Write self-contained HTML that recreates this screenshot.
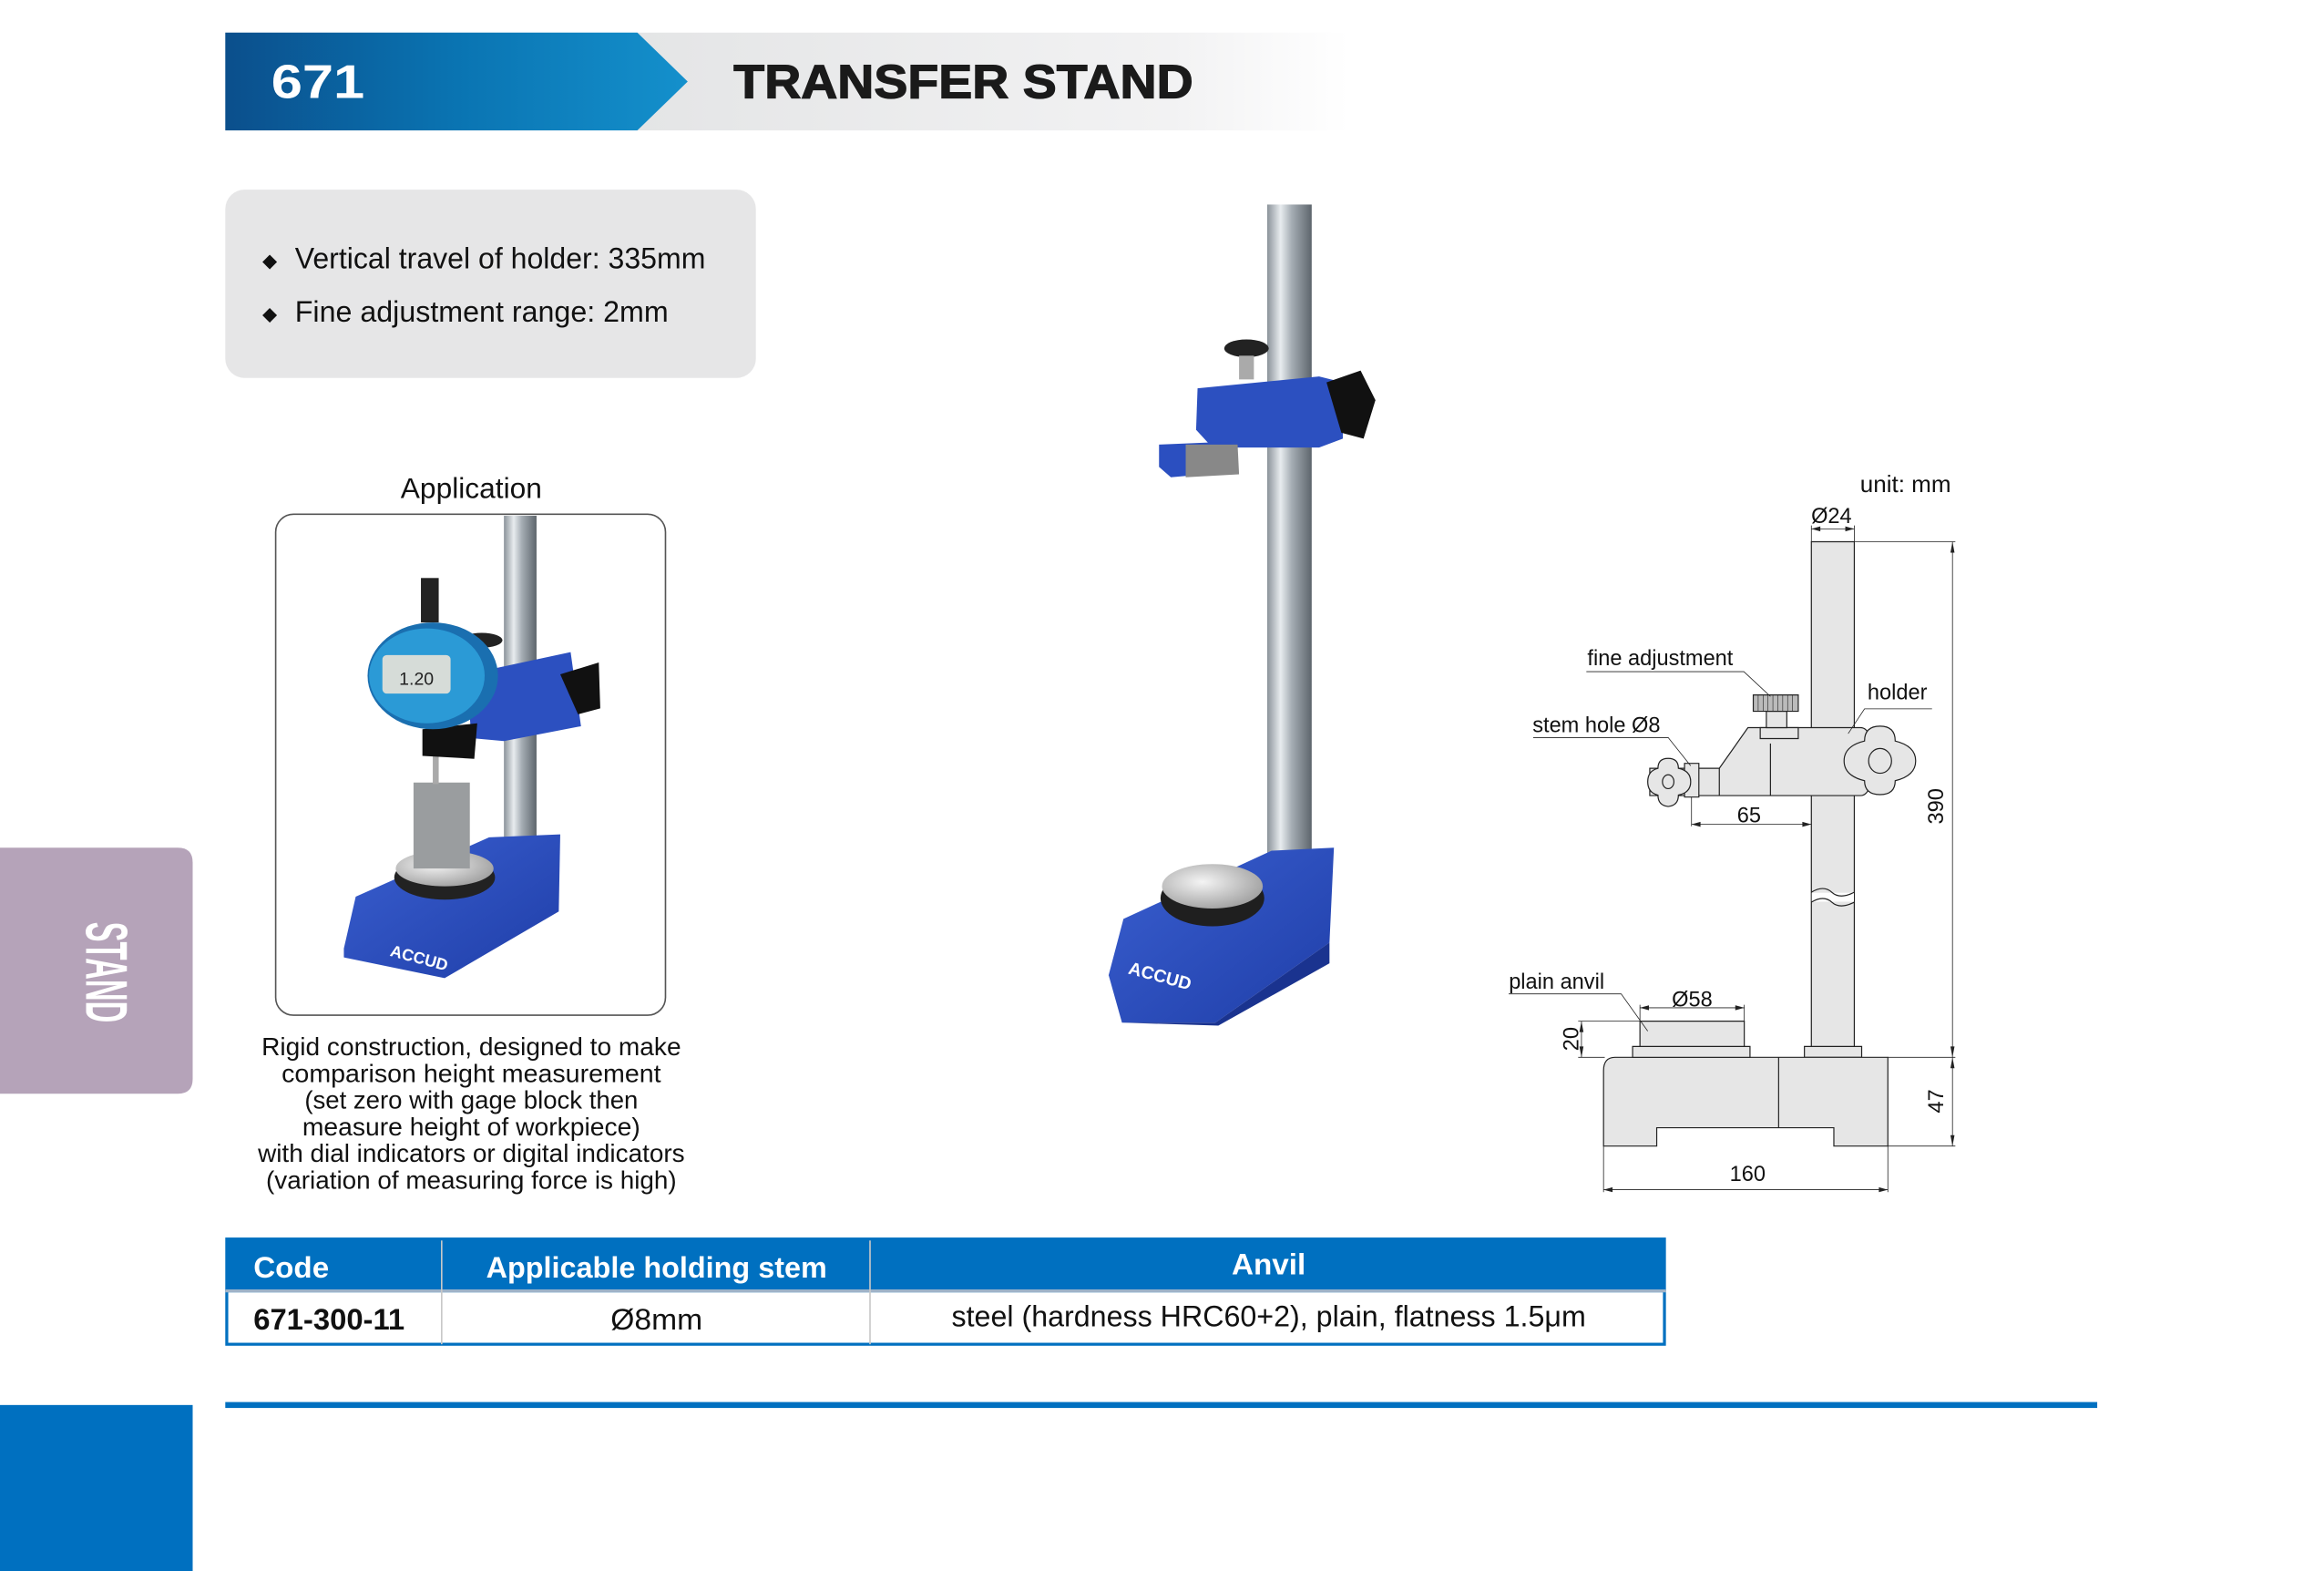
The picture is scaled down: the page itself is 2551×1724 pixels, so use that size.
<!DOCTYPE html>
<html><head><meta charset="utf-8"><style>
html,body{margin:0;padding:0;background:#fff;}
svg{display:block;}
text{font-family:"Liberation Sans",sans-serif;}
</style></head><body>
<svg width="2551" height="1724" viewBox="0 0 1568 1060" preserveAspectRatio="none" xmlns="http://www.w3.org/2000/svg">
<defs>
<linearGradient id="hb" x1="0" x2="1" y1="0" y2="0"><stop offset="0" stop-color="#0b4f8c"/><stop offset="0.5" stop-color="#0a74b2"/><stop offset="1" stop-color="#1490cc"/></linearGradient>
<linearGradient id="hg" x1="0" x2="1"><stop offset="0" stop-color="#e4e5e6"/><stop offset="0.75" stop-color="#f2f2f3"/><stop offset="1" stop-color="#ffffff"/></linearGradient>
<linearGradient id="col" x1="0" x2="1"><stop offset="0" stop-color="#8b939a"/><stop offset="0.3" stop-color="#e8ecef"/><stop offset="0.55" stop-color="#a5adb4"/><stop offset="1" stop-color="#5d656c"/></linearGradient>
<linearGradient id="blu" x1="0" x2="1" y1="0" y2="1"><stop offset="0" stop-color="#3a5fd0"/><stop offset="1" stop-color="#1f3ea8"/></linearGradient>
<radialGradient id="anv" cx="0.4" cy="0.4" r="0.7"><stop offset="0" stop-color="#f4f4f4"/><stop offset="1" stop-color="#9a9a9a"/></radialGradient>
</defs>

<!-- header -->
<rect x="430" y="22" width="480" height="66" fill="url(#hg)"/>
<polygon points="152,22 430,22 464,55 430,88 152,88" fill="url(#hb)"/>
<text x="183" y="66" font-size="32" font-weight="bold" fill="#fff" textLength="63" lengthAdjust="spacingAndGlyphs">671</text>
<text x="495" y="66" font-size="32" font-weight="bold" fill="#1a1a1a" stroke="#1a1a1a" stroke-width="0.8" textLength="310" lengthAdjust="spacingAndGlyphs">TRANSFER STAND</text>

<!-- features box -->
<rect x="152" y="128" width="358" height="127" rx="13" fill="#e6e6e7"/>
<text x="177" y="180" font-size="13" fill="#111">◆</text>
<text x="199" y="181" font-size="20" fill="#111" textLength="277" lengthAdjust="spacingAndGlyphs">Vertical travel of holder: 335mm</text>
<text x="177" y="216" font-size="13" fill="#111">◆</text>
<text x="199" y="217" font-size="20" fill="#111" textLength="252" lengthAdjust="spacingAndGlyphs">Fine adjustment range: 2mm</text>

<!-- side tab -->
<path d="M0,572 H120 Q130,572 130,582 V728 Q130,738 120,738 H0 Z" fill="#b5a3b9"/>
<text transform="translate(58,656) rotate(90)" text-anchor="middle" font-size="40" font-weight="bold" fill="#fff" textLength="68" lengthAdjust="spacingAndGlyphs">STAND</text>
<rect x="0" y="948" width="130" height="112" fill="#0070c0"/>
<rect x="152" y="946" width="1263" height="4" fill="#0070c0"/>

<!-- application -->
<text x="318" y="336" font-size="19.5" text-anchor="middle" fill="#111">Application</text>
<rect x="186" y="347" width="263" height="338" rx="12" fill="#fff" stroke="#555" stroke-width="1"/>
<rect x="340" y="348" width="22" height="222" fill="url(#col)"/>
<polygon points="232,640 240,605 330,565 378,563 377,615 300,660 232,646" fill="url(#blu)"/>
<ellipse cx="300" cy="592" rx="34" ry="15" fill="#222"/>
<ellipse cx="300" cy="586" rx="33" ry="12" fill="url(#anv)"/>
<rect x="279" y="528" width="38" height="58" fill="#9a9d9f"/>
<rect x="292" y="505" width="4" height="24" fill="#aaa"/>
<polygon points="315,455 385,440 392,490 340,500 318,498" fill="#2c50c0"/>
<polygon points="378,455 404,447 405,478 390,482" fill="#111"/>
<polygon points="285,492 322,488 320,512 285,510" fill="#111"/>
<ellipse cx="325" cy="432" rx="14" ry="5" fill="#222"/>
<rect x="284" y="390" width="12" height="30" fill="#222"/>
<ellipse cx="292" cy="456" rx="44" ry="36" fill="#1a6fb0"/>
<ellipse cx="288" cy="456" rx="39" ry="32" fill="#2b9ad6"/>
<rect x="258" y="442" width="46" height="26" rx="3" fill="#d6dcd8"/>
<text x="281" y="462" font-size="12" text-anchor="middle" fill="#222">1.20</text>
<text x="264" y="645" font-size="11" font-weight="bold" fill="#fff" transform="rotate(15 264 640)">ACCUD</text>
<g font-size="17" text-anchor="middle" fill="#111" lengthAdjust="spacingAndGlyphs">
<text x="318" y="712" textLength="283" lengthAdjust="spacingAndGlyphs">Rigid construction, designed to make</text>
<text x="318" y="730" textLength="256" lengthAdjust="spacingAndGlyphs">comparison height measurement</text>
<text x="318" y="748" textLength="225" lengthAdjust="spacingAndGlyphs">(set zero with gage block then</text>
<text x="318" y="766" textLength="228" lengthAdjust="spacingAndGlyphs">measure height of workpiece)</text>
<text x="318" y="784" textLength="288" lengthAdjust="spacingAndGlyphs">with dial indicators or digital indicators</text>
<text x="318" y="802" textLength="277" lengthAdjust="spacingAndGlyphs">(variation of measuring force is high)</text>
</g>

<!-- main product photo -->
<rect x="855" y="138" width="30" height="452" fill="url(#col)"/>
<polygon points="748,658 758,620 858,574 900,572 897,636 820,690 757,690" fill="url(#blu)"/>
<polygon points="757,690 820,690 897,636 897,650 822,692" fill="#1a338f"/>
<ellipse cx="818" cy="606" rx="35" ry="19" fill="#1f1f1f"/>
<ellipse cx="818" cy="598" rx="34" ry="15" fill="url(#anv)"/>
<text x="762" y="657" font-size="12" font-weight="bold" fill="#fff" transform="rotate(15 762 652)">ACCUD</text>
<polygon points="808,262 890,254 906,258 906,296 890,302 818,302 807,290" fill="#2c50c0"/>
<polygon points="782,300 830,298 835,318 790,322 782,315" fill="#2b4fc0"/>
<polygon points="800,300 835,300 836,320 800,322" fill="#888"/>
<polygon points="895,258 918,250 928,270 920,296 905,292" fill="#111"/>
<ellipse cx="841" cy="235" rx="15" ry="6" fill="#222"/>
<rect x="836" y="240" width="10" height="16" fill="#aaa"/>

<!-- technical drawing -->
<g transform="translate(982,306) scale(0.276,0.3345)" fill="#e6e6e6" stroke="#222" stroke-width="1.2">
<rect x="870" y="178" width="105" height="1020" vector-effect="non-scaling-stroke"/>
<rect x="871" y="886" width="103" height="18" fill="#fff" stroke="none"/>
<path d="M870,885 Q900,870 920,885 T975,885 M870,905 Q900,890 920,905 T975,905" fill="none" vector-effect="non-scaling-stroke"/>
<rect x="853" y="1196" width="140" height="22" vector-effect="non-scaling-stroke"/>
<path d="M390,1218 H1057 V1397 H925 V1360 H492 V1397 H362 V1245 Q362,1218 390,1218 Z" vector-effect="non-scaling-stroke"/>
<line x1="790" y1="1218" x2="790" y2="1360" vector-effect="non-scaling-stroke"/>
<rect x="433" y="1196" width="287" height="22" vector-effect="non-scaling-stroke"/>
<rect x="451" y="1145" width="255" height="51" vector-effect="non-scaling-stroke"/>
<path d="M715,553 H990 Q1020,553 1020,620 Q1020,690 990,690 H475 V635 H645 Z" vector-effect="non-scaling-stroke"/>
<line x1="645" y1="635" x2="645" y2="690" vector-effect="non-scaling-stroke"/>
<line x1="770" y1="585" x2="770" y2="690" vector-effect="non-scaling-stroke"/>
<rect x="745" y="553" width="93" height="22" vector-effect="non-scaling-stroke"/>
<rect x="760" y="520" width="50" height="33" vector-effect="non-scaling-stroke"/>
<rect x="728" y="487" width="110" height="33" fill="#bbb" vector-effect="non-scaling-stroke"/>
<path d="M740,487v33M752,487v33M764,487v33M776,487v33M788,487v33M800,487v33M812,487v33M824,487v33" stroke-width="0.6" fill="none" vector-effect="non-scaling-stroke"/>
<rect x="560" y="625" width="35" height="68" vector-effect="non-scaling-stroke"/>
<path d="M520,615 Q545,615 545,635 Q575,640 575,662 Q575,684 545,689 Q545,710 520,712 Q495,710 495,689 Q470,684 470,662 Q470,640 495,635 Q495,615 520,615 Z" vector-effect="non-scaling-stroke"/>
<circle cx="520" cy="662" r="14" vector-effect="non-scaling-stroke"/>
<path d="M1038,550 Q1075,550 1075,580 Q1125,590 1125,620 Q1125,650 1075,660 Q1075,688 1038,688 Q1000,688 1000,660 Q950,650 950,620 Q950,590 1000,580 Q1000,550 1038,550 Z" vector-effect="non-scaling-stroke"/>
<ellipse cx="1038" cy="620" rx="28" ry="25" vector-effect="non-scaling-stroke"/>
<g fill="none" stroke-width="0.8">
<path d="M870,145V178M975,145V178M870,152H975" vector-effect="non-scaling-stroke"/>
<path d="M975,178H1222M1057,1218H1222M1057,1397H1222M1215,178V1397" vector-effect="non-scaling-stroke"/>
<path d="M362,1397V1490M1057,1397V1490M362,1485H1057" vector-effect="non-scaling-stroke"/>
<path d="M577,693V752M577,748H870" vector-effect="non-scaling-stroke"/>
<path d="M451,1145V1112M706,1145V1112M451,1118H706" vector-effect="non-scaling-stroke"/>
<path d="M300,1145H451M300,1218H365M308,1145V1218" vector-effect="non-scaling-stroke"/>
<path d="M320,440H705L770,490M190,573H520L575,630M1165,515H1000L960,565M130,1090H405L470,1165" vector-effect="non-scaling-stroke"/>
</g>
<g fill="#222" stroke="none">
<path d="M870,152l22,-5v10zM975,152l-22,-5v10z"/>
<path d="M1215,178l-5,22h10zM1215,1218l-5,-22h10zM1215,1218l-5,22h10zM1215,1397l-5,-22h10z"/>
<path d="M362,1485l22,-5v10zM1057,1485l-22,-5v10z"/>
<path d="M577,748l22,-5v10zM870,748l-22,-5v10z"/>
<path d="M451,1118l22,-5v10zM706,1118l-22,-5v10z"/>
<path d="M308,1145l-5,22h10zM308,1218l-5,-22h10z"/>
</g>
</g>
<g font-size="14.5" fill="#111">
<text x="1255" y="332" font-size="16">unit: mm</text>
<text x="1222" y="353">Ø24</text>
<text x="1071" y="449">fine adjustment</text>
<text x="1034" y="494">stem hole Ø8</text>
<text x="1260" y="472">holder</text>
<text x="1172" y="555">65</text>
<text transform="translate(1311,544) rotate(-90)" text-anchor="middle">390</text>
<text x="1018" y="667">plain anvil</text>
<text x="1128" y="679">Ø58</text>
<text transform="translate(1065,701) rotate(-90)" text-anchor="middle">20</text>
<text transform="translate(1311,743) rotate(-90)" text-anchor="middle">47</text>
<text x="1167" y="797">160</text>
</g>

<!-- table -->
<rect x="152" y="835" width="972" height="36" fill="#0070c0"/>
<rect x="153" y="871" width="970" height="36" fill="#fff" stroke="#0070c0" stroke-width="2"/>
<line x1="152" y1="871" x2="1124" y2="871" stroke="#9fb3c8" stroke-width="2"/>
<line x1="298" y1="837" x2="298" y2="907" stroke="#c8c8c8" stroke-width="1"/>
<line x1="587" y1="837" x2="587" y2="907" stroke="#c8c8c8" stroke-width="1"/>
<g font-size="20">
<text x="171" y="862" fill="#fff" font-weight="bold" textLength="51" lengthAdjust="spacingAndGlyphs">Code</text>
<text x="328" y="862" fill="#fff" font-weight="bold" textLength="230" lengthAdjust="spacingAndGlyphs">Applicable holding stem</text>
<text x="831" y="860" fill="#fff" font-weight="bold" textLength="50" lengthAdjust="spacingAndGlyphs">Anvil</text>
<text x="171" y="897" fill="#111" font-weight="bold" textLength="102" lengthAdjust="spacingAndGlyphs">671-300-11</text>
<text x="412" y="897" fill="#111" textLength="62" lengthAdjust="spacingAndGlyphs">Ø8mm</text>
<text x="642" y="895" fill="#111" textLength="428" lengthAdjust="spacingAndGlyphs">steel (hardness HRC60+2), plain, flatness 1.5μm</text>
</g>
</svg>
</body></html>
